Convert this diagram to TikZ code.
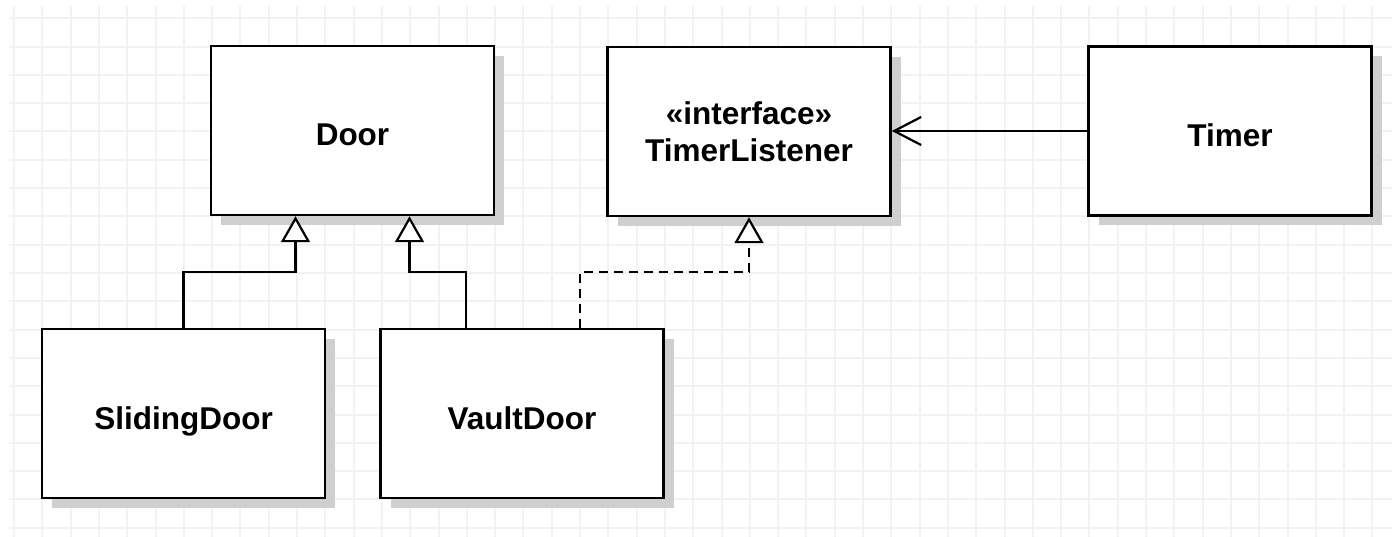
\documentclass[tikz,border=0pt]{standalone}
\usepackage{fontspec}
\setmainfont{Liberation Sans}
\usetikzlibrary{arrows.meta, shadows}

\tikzset{
  gridline/.style={line width=2pt, black!5},
  umlclass/.style={draw, line width=2.5pt, fill=white,
    minimum width=283pt, minimum height=169pt, inner sep=0pt, align=center,
    font=\bfseries\fontsize{31.5}{37}\selectfont,
    drop shadow={shadow xshift=10pt, shadow yshift=-10pt, fill=black!19, opacity=1}},
  onerow/.style={text height=31pt, text depth=0pt},
  generalize/.style={line width=2.2pt, -{Triangle[fill=white, length=26pt, width=29pt]}},
  realize/.style={generalize, dash pattern=on 9pt off 6pt},
  assoc/.style={line width=2.2pt, -{Straight Barb[length=27pt, width=28pt]}}
}

\begin{document}
\begin{tikzpicture}[x=1pt, y=-1pt]
    \useasboundingbox (0,0) rectangle (1392,537);
    % background grid
    \foreach \gx in {0,...,48}
        \draw[gridline] ({14+28.3*\gx},6) -- ++(0,531);
    \foreach \gy in {0,...,18}
        \draw[gridline] (10,{18.3+28.3*\gy}) -- ++(1382,0);

    \node[umlclass, onerow] (door) at (352.5,130.5) {Door};
    \node[umlclass] (timerlistener) at (749,131.5) {«interface»\\TimerListener};
    \node[umlclass, onerow] (timer) at (1230,131) {Timer};
    \node[umlclass, onerow] (slidingdoor) at (183.5,413.5) {SlidingDoor};
    \node[umlclass, onerow] (vaultdoor) at (522,413.5) {VaultDoor};

    \draw[generalize] (slidingdoor.north) -- ++(0,-56) -| ([xshift=-57pt]door.south);
    \draw[generalize] ([xshift=-56pt]vaultdoor.north) -- ++(0,-56) -| ([xshift=57pt]door.south);
    \draw[realize] ([xshift=58pt]vaultdoor.north) -- ++(0,-56) -| (timerlistener.south);
    \draw[assoc] (timer.west) -- (timerlistener.east |- timer.west);
\end{tikzpicture}
\end{document}
